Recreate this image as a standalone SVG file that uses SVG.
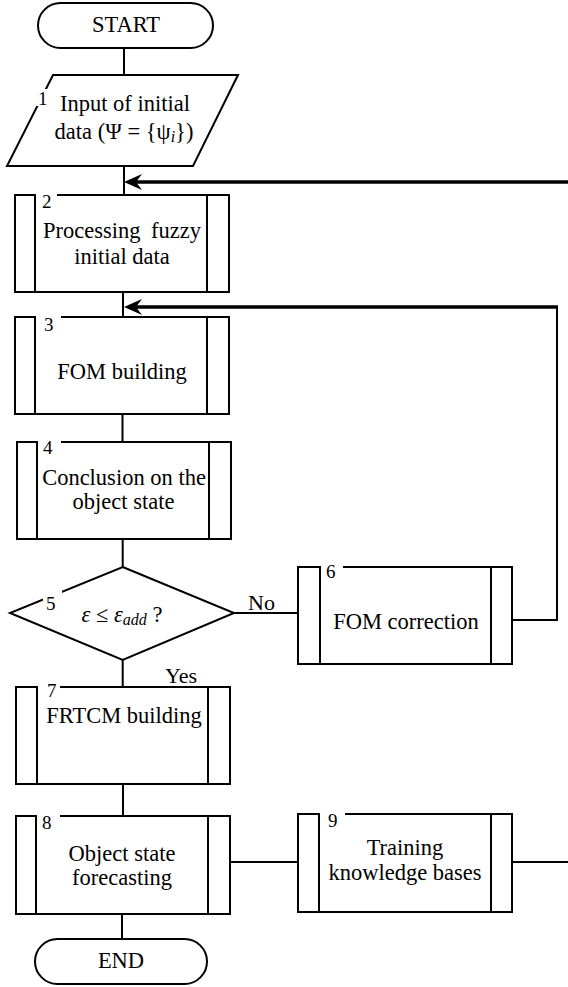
<svg xmlns="http://www.w3.org/2000/svg" width="568" height="987" viewBox="0 0 568 987">
<style>
  .shape { fill: #fff; stroke: #000; stroke-width: 2; }
  .inner { stroke: #000; stroke-width: 2; fill: none; }
  .bg { fill: #fff; stroke: none; }
  .t { font-family: "Liberation Serif", "Times New Roman", serif; font-size: 22.5px; fill: #000; text-anchor: middle; }
  .n { font-family: "Liberation Serif", "Times New Roman", serif; font-size: 19px; fill: #000; }
  .lbl { font-family: "Liberation Serif", "Times New Roman", serif; font-size: 22px; fill: #000; }
  .c { stroke: #000; stroke-width: 2; fill: none; }
  .thick { stroke: #000; stroke-width: 3.5; fill: none; }
  .head { fill: #000; stroke: none; }
</style>
<rect width="568" height="987" fill="#fff"/>

<g id="connectors">
  <line class="c" x1="124" y1="48" x2="124" y2="75"/>
  <line class="c" x1="124" y1="166" x2="124" y2="195"/>
  <line class="thick" x1="568" y1="182" x2="132" y2="182"/>
  <path class="head" d="M124,182 L142,174 L136,182 L142,190 Z"/>
  <line class="c" x1="123" y1="292" x2="123" y2="317"/>
  <polyline class="c" points="512,620 557,620 557,307"/>
  <line class="thick" x1="558" y1="307" x2="132" y2="307"/>
  <path class="head" d="M124,307 L142,299 L136,307 L142,315 Z"/>
  <line class="c" x1="122.5" y1="414" x2="122.5" y2="442"/>
  <line class="c" x1="122.7" y1="539" x2="122.7" y2="567"/>
  <line class="c" x1="234" y1="613" x2="298" y2="613"/>
  <line class="c" x1="122.7" y1="660" x2="122.7" y2="687"/>
  <line class="c" x1="123" y1="784" x2="123" y2="816"/>
  <line class="c" x1="230" y1="862" x2="298" y2="862"/>
  <line class="c" x1="512" y1="862" x2="568" y2="862"/>
  <line class="c" x1="122" y1="914" x2="122" y2="939"/>
  <text class="lbl" x="248" y="610">No</text>
  <text class="lbl" x="165" y="683">Yes</text>
</g>

<g id="start">
  <rect class="shape" x="38" y="3" width="175" height="45" rx="22.5"/>
  <text class="t" x="126" y="32">START</text>
</g>

<g id="node1">
  <polygon class="shape" points="53,75 238,75 193,166 7,166"/>
  <rect class="bg" x="36" y="89" width="11" height="17"/>
  <text class="n" x="38" y="105">1</text>
  <text class="t" x="125" y="111">Input of initial</text>
  <text class="t" x="124" y="139">data (Ψ = {ψ<tspan font-style="italic" font-size="16" dy="3">i</tspan><tspan dy="-3">})</tspan></text>
</g>

<g id="node2">
  <rect class="shape" x="15" y="195" width="214" height="97"/>
  <line class="inner" x1="35" y1="195" x2="35" y2="292"/>
  <line class="inner" x1="207" y1="195" x2="207" y2="292"/>
  <rect class="bg" x="36" y="192" width="21" height="6"/>
  <text class="n" x="42" y="208">2</text>
  <text class="t" x="122" y="238" word-spacing="5">Processing fuzzy</text>
  <text class="t" x="122" y="264">initial data</text>
</g>

<g id="node3">
  <rect class="shape" x="15" y="317" width="214" height="97"/>
  <line class="inner" x1="35" y1="317" x2="35" y2="414"/>
  <line class="inner" x1="207" y1="317" x2="207" y2="414"/>
  <rect class="bg" x="36" y="314" width="25" height="6"/>
  <text class="n" x="44" y="331">3</text>
  <text class="t" x="122" y="379">FOM building</text>
</g>

<g id="node4">
  <rect class="shape" x="17" y="442" width="214" height="97"/>
  <line class="inner" x1="37" y1="442" x2="37" y2="539"/>
  <line class="inner" x1="209" y1="442" x2="209" y2="539"/>
  <rect class="bg" x="38" y="439" width="23" height="6"/>
  <text class="n" x="43" y="454">4</text>
  <text class="t" x="124" y="485">Conclusion on the</text>
  <text class="t" x="123.5" y="509">object state</text>
</g>

<g id="node5">
  <polygon class="shape" points="122.7,567 234,613 122.7,660 10,613"/>
  <rect class="bg" x="43" y="588" width="19" height="22"/>
  <text class="n" x="46" y="610">5</text>
  <text class="t" x="122" y="622"><tspan font-style="italic">ε</tspan> ≤ <tspan font-style="italic">ε</tspan><tspan font-style="italic" font-size="16" dy="3">add</tspan><tspan dy="-3"> ?</tspan></text>
</g>

<g id="node6">
  <rect class="shape" x="298" y="567" width="214" height="97"/>
  <line class="inner" x1="320" y1="567" x2="320" y2="664"/>
  <line class="inner" x1="491" y1="567" x2="491" y2="664"/>
  <rect class="bg" x="321" y="564" width="22" height="6"/>
  <text class="n" x="326" y="578">6</text>
  <text class="t" x="406" y="629">FOM correction</text>
</g>

<g id="node7">
  <rect class="shape" x="16" y="687" width="214" height="97"/>
  <line class="inner" x1="37" y1="687" x2="37" y2="784"/>
  <line class="inner" x1="208" y1="687" x2="208" y2="784"/>
  <rect class="bg" x="38" y="684" width="22" height="6"/>
  <text class="n" x="47" y="697">7</text>
  <text class="t" x="124" y="723">FRTCM building</text>
</g>

<g id="node8">
  <rect class="shape" x="16" y="816" width="214" height="98"/>
  <line class="inner" x1="36" y1="816" x2="36" y2="914"/>
  <line class="inner" x1="208" y1="816" x2="208" y2="914"/>
  <rect class="bg" x="37" y="813" width="23" height="8"/>
  <text class="n" x="42" y="829">8</text>
  <text class="t" x="122" y="861">Object state</text>
  <text class="t" x="122" y="885">forecasting</text>
</g>

<g id="node9">
  <rect class="shape" x="298" y="814" width="214" height="98"/>
  <line class="inner" x1="319" y1="814" x2="319" y2="912"/>
  <line class="inner" x1="491" y1="814" x2="491" y2="912"/>
  <rect class="bg" x="320" y="811" width="25" height="6"/>
  <text class="n" x="328" y="827">9</text>
  <text class="t" x="405" y="855">Training</text>
  <text class="t" x="405" y="880">knowledge bases</text>
</g>

<g id="end">
  <rect class="shape" x="35" y="939" width="172" height="45" rx="22.5"/>
  <text class="t" x="121" y="968">END</text>
</g>
</svg>
